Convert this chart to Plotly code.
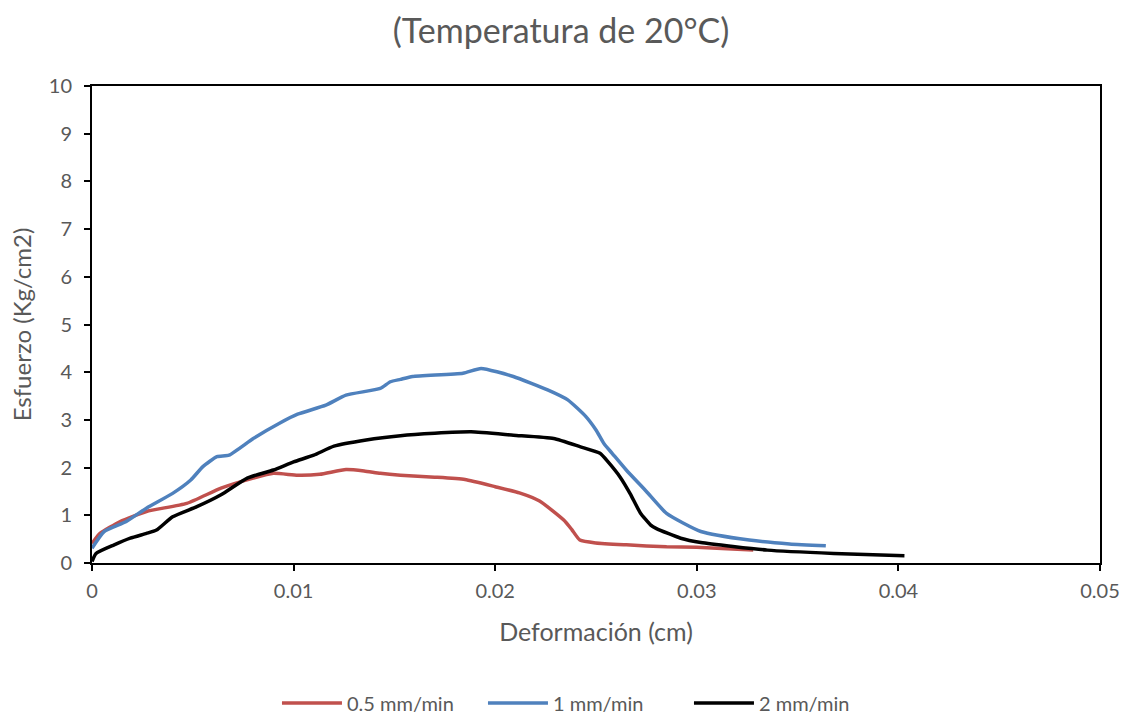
import plotly.graph_objects as go

# 0.5 mm/min
x_05 = [0, 0.0004, 0.0014, 0.0027, 0.0047, 0.0064, 0.0080, 0.0090, 0.0102, 0.0113, 0.0126, 0.0135,
        0.0143, 0.0153, 0.0170, 0.0185, 0.0200, 0.0212, 0.0222, 0.0234, 0.0238, 0.0242, 0.0250,
        0.0265, 0.0285, 0.0300, 0.0315, 0.0328]
y_05 = [0.41, 0.62, 0.87, 1.08, 1.25, 1.57, 1.78, 1.88, 1.84, 1.86, 1.96, 1.93,
        1.88, 1.84, 1.80, 1.75, 1.60, 1.47, 1.30, 0.90, 0.70, 0.48, 0.42,
        0.38, 0.34, 0.33, 0.30, 0.27]

# 1 mm/min
x_1 = [0, 0.0006, 0.0017, 0.0027, 0.0040, 0.0049, 0.0055, 0.0062, 0.0068, 0.0080, 0.0093, 0.0102,
       0.0116, 0.0126, 0.0143, 0.0148, 0.0153, 0.0159, 0.0184, 0.0193, 0.0209, 0.0226, 0.0236,
       0.0245, 0.0250, 0.0254, 0.0258, 0.0265, 0.0275, 0.0285, 0.0302, 0.0326, 0.0346, 0.0364]
y_1 = [0.31, 0.66, 0.87, 1.15, 1.46, 1.74, 2.02, 2.23, 2.26, 2.61, 2.93, 3.12,
       3.31, 3.52, 3.66, 3.80, 3.85, 3.91, 3.98, 4.08, 3.91, 3.63, 3.42,
       3.07, 2.79, 2.50, 2.30, 1.95, 1.50, 1.04, 0.66, 0.48, 0.40, 0.36]

# 2 mm/min
x_2 = [0, 0.0002, 0.0011, 0.0019, 0.0027, 0.0032, 0.0040, 0.0052, 0.0064, 0.0077, 0.0090, 0.0100,
       0.0110, 0.0120, 0.0136, 0.0153, 0.0170, 0.0188, 0.0209, 0.0229, 0.0242, 0.0252, 0.0256,
       0.0262, 0.0267, 0.0272, 0.0277, 0.0280, 0.0292, 0.0302, 0.0335, 0.0368, 0.0403]
y_2 = [0.03, 0.20, 0.38, 0.52, 0.62, 0.69, 0.97, 1.18, 1.43, 1.78, 1.95, 2.12,
       2.26, 2.45, 2.58, 2.67, 2.72, 2.75, 2.68, 2.61, 2.44, 2.30, 2.12,
       1.80, 1.45, 1.05, 0.80, 0.72, 0.52, 0.43, 0.27, 0.20, 0.15]

x_ticks = [0, 0.01, 0.02, 0.03, 0.04, 0.05]
x_tick_labels = ["0", "0.01", "0.02", "0.03", "0.04", "0.05"]
y_ticks = list(range(0, 11))

FONT = "Lato"
GREY = "#595959"

fig = go.Figure()
for xs, ys, name, color in [(x_05, y_05, "0.5 mm/min", "#C0504D"),
                            (x_1, y_1, "1 mm/min", "#4F81BD"),
                            (x_2, y_2, "2 mm/min", "#000000")]:
    fig.add_trace(go.Scatter(x=xs, y=ys, mode="lines", name=name,
                             line=dict(color=color, width=3.5, shape="spline", smoothing=0.5)))

axis_common = dict(showgrid=False, zeroline=False, showline=True, linecolor="black", linewidth=2,
                   mirror=True, ticks="outside", ticklen=6, tickcolor="black", tickwidth=1.5,
                   automargin=False,
                   tickfont=dict(family=FONT, size=20, color=GREY))

fig.update_layout(
    width=1122, height=715,
    paper_bgcolor="white", plot_bgcolor="white",
    margin=dict(l=92, r=22, t=86, b=152, autoexpand=False),
    title=dict(text="(Temperatura de 20°C)", x=0.5, xanchor="center", y=0.956, yanchor="middle",
               font=dict(family=FONT, size=34, color=GREY)),
    xaxis=dict(range=[0, 0.05], tickvals=x_ticks, ticktext=x_tick_labels, ticklabelstandoff=3,
               title=dict(text="Deformación (cm)", font=dict(family=FONT, size=25, color=GREY), standoff=22),
               **axis_common),
    yaxis=dict(range=[0, 10], tickvals=y_ticks, ticklabelstandoff=8,
               title=dict(text="Esfuerzo (Kg/cm2)", font=dict(family=FONT, size=24, color=GREY), standoff=10),
               **axis_common),
    legend=dict(orientation="h", x=0.1835, xanchor="left", y=-0.2935, yanchor="middle",
                font=dict(family=FONT, size=20, color=GREY), entrywidth=131, itemwidth=60),
    showlegend=True,
)

fig.write_html("out.html", config={"displayModeBar": False},
               post_script="document.body.style.margin='0';document.body.style.overflow='hidden';")
